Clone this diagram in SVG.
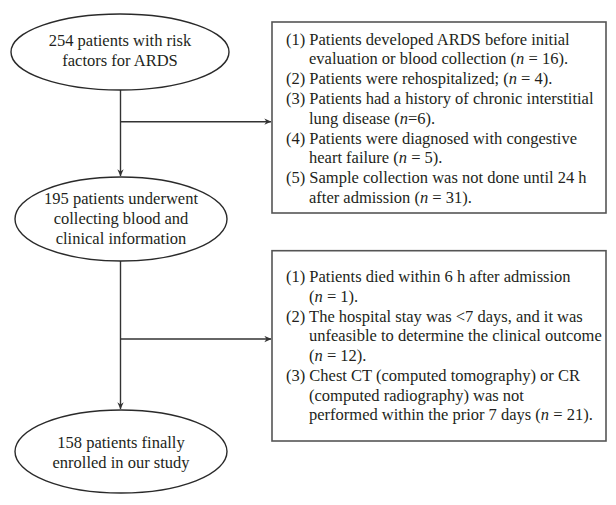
<svg xmlns="http://www.w3.org/2000/svg" width="616" height="505" viewBox="0 0 616 505" font-family="'Liberation Serif', 'DejaVu Serif', serif">
  <style>
    .bg { fill: #ffffff; }
    .node { fill: #ffffff; stroke: #2a2a2a; stroke-width: 1.4; }
    .box { fill: #ffffff; stroke: #555555; stroke-width: 1.6; }
    .edge { fill: none; stroke: #333333; stroke-width: 1.4; }
    .t { font-family: 'Liberation Serif', 'DejaVu Serif', serif; font-size: 16.5px; fill: #231f20; }
    .c { text-anchor: middle; }
    .i { font-style: italic; }
  </style>
  <defs>
    <marker id="arrow" viewBox="0 0 10 10" refX="9.5" refY="5" markerWidth="7" markerHeight="7" markerUnits="userSpaceOnUse" orient="auto">
      <path d="M0,0.5 L10,5 L0,9.5 L3,5 Z" fill="#333333"/>
    </marker>
  </defs>
  <rect class="bg" x="0" y="0" width="616" height="505"/>

  <g id="connectors">
    <line class="edge" x1="120.5" y1="90" x2="120.5" y2="176" marker-end="url(#arrow)"/>
    <line class="edge" x1="120.5" y1="121.7" x2="271" y2="121.7" marker-end="url(#arrow)"/>
    <line class="edge" x1="120.5" y1="261" x2="120.5" y2="409" marker-end="url(#arrow)"/>
    <line class="edge" x1="120.5" y1="339" x2="271" y2="339" marker-end="url(#arrow)"/>
  </g>

  <g id="n1" class="t">
    <ellipse class="node" cx="120" cy="52" rx="109" ry="38"/>
    <text class="c" x="120" y="46">254 patients with risk</text>
    <text class="c" x="120" y="65.5">factors for ARDS</text>
  </g>

  <g id="n2" class="t">
    <ellipse class="node" cx="121" cy="219" rx="106" ry="42"/>
    <text class="c" x="121" y="204">195 patients underwent</text>
    <text class="c" x="121" y="224">collecting blood and</text>
    <text class="c" x="121" y="244">clinical information</text>
  </g>

  <g id="n3" class="t">
    <ellipse class="node" cx="121" cy="451.5" rx="106" ry="41.5"/>
    <text class="c" x="121" y="448">158 patients finally</text>
    <text class="c" x="121" y="468">enrolled in our study</text>
  </g>

  <g id="exclusion1" class="t">
    <rect class="box" x="272" y="22" width="334" height="191"/>
    <text x="286" y="44.5">(1) Patients developed ARDS before initial</text>
    <text x="309" y="64.3">evaluation or blood collection (<tspan class="i">n</tspan> = 16).</text>
    <text x="286" y="84.1">(2) Patients were rehospitalized; (<tspan class="i">n</tspan> = 4).</text>
    <text x="286" y="103.9">(3) Patients had a history of chronic interstitial</text>
    <text x="309" y="123.7">lung disease (<tspan class="i">n</tspan>=6).</text>
    <text x="286" y="143.5">(4) Patients were diagnosed with congestive</text>
    <text x="309" y="163.3">heart failure (<tspan class="i">n</tspan> = 5).</text>
    <text x="286" y="183.1">(5) Sample collection was not done until 24 h</text>
    <text x="309" y="202.9">after admission (<tspan class="i">n</tspan> = 31).</text>
  </g>

  <g id="exclusion2" class="t">
    <rect class="box" x="272" y="250.7" width="334" height="190.3"/>
    <text x="286" y="282.3">(1) Patients died within 6 h after admission</text>
    <text x="309" y="302">(<tspan class="i">n</tspan> = 1).</text>
    <text x="286" y="321.7">(2) The hospital stay was &lt;7 days, and it was</text>
    <text x="309" y="341.4">unfeasible to determine the clinical outcome</text>
    <text x="309" y="361.1">(<tspan class="i">n</tspan> = 12).</text>
    <text x="286" y="380.8">(3) Chest CT (computed tomography) or CR</text>
    <text x="309" y="400.5">(computed radiography) was not</text>
    <text x="309" y="420.2">performed within the prior 7 days (<tspan class="i">n</tspan> = 21).</text>
  </g>
</svg>
